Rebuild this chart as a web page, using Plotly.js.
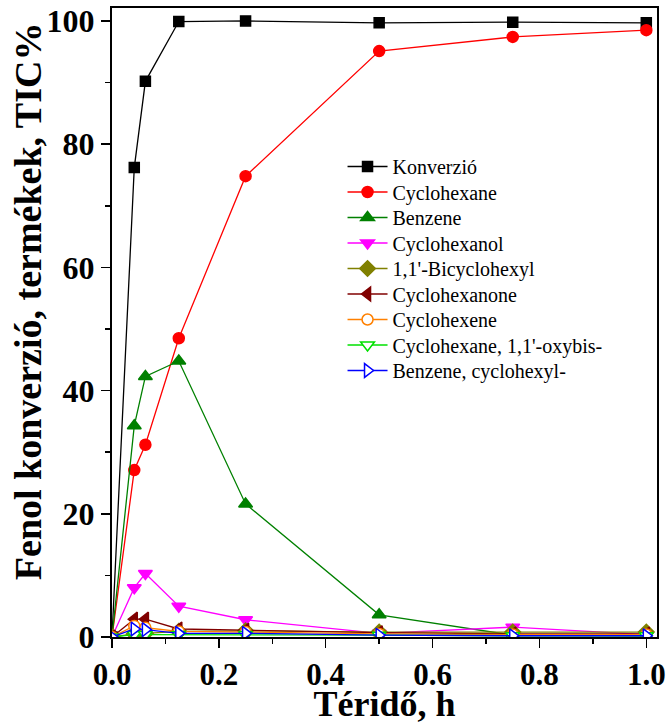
<!DOCTYPE html>
<html>
<head>
<meta charset="utf-8">
<script src="https://cdn.plot.ly/plotly-3.0.1.min.js"></script>
<style>html,body{margin:0;padding:0;background:#fff;}</style>
</head>
<body>
<div id="chart" style="width:669px;height:724px;"></div>
<script>
const time = [0, 0.0417, 0.0625, 0.125, 0.25, 0.5, 0.75, 1.0];
const seriesNames = ["Konverzió", "Cyclohexane", "Benzene", "Cyclohexanol", "1,1'-Bicyclohexyl", "Cyclohexanone", "Cyclohexene", "Cyclohexane, 1,1'-oxybis-", "Benzene, cyclohexyl-"];
const konverzio = [0, 76.2, 90.2, 99.9, 100.0, 99.7, 99.8, 99.7];
const cyclohexane = [0, 27.1, 31.2, 48.5, 74.8, 95.1, 97.4, 98.5];
const benzene = [0, 34.3, 42.3, 44.8, 21.6, 3.6, 0.3, 0.2];
const cyclohexanol = [0, 8.0, 10.3, 5.0, 2.8, 0.6, 1.6, 0.4];
const bicyclohexyl = [0, 0.5, 0.6, 0.9, 1.0, 0.8, 0.8, 0.8];
const cyclohexanone = [0, 2.9, 2.9, 1.3, 1.1, 0.7, 0.5, 0.5];
const cyclohexene = [0, 1.8, 1.5, 0.9, 0.8, 0.5, 0.4, 0.4];
const oxybis = [0, 0.4, 0.4, 0.4, 0.4, 0.3, 0.2, 0.2];
const cyclohexylBenzene = [0, 1.3, 1.2, 0.6, 0.6, 0.3, 0.2, 0.2];
const xTickVals = [0, 0.2, 0.4, 0.6, 0.8, 1.0];
const xTickText = ["0.0", "0.2", "0.4", "0.6", "0.8", "1.0"];
const yTickVals = [0, 20, 40, 60, 80, 100];
const xTitle = "Téridő, h";
const yTitle = "Fenol konverzió, termékek, TIC%";

const values = [konverzio, cyclohexane, benzene, cyclohexanol, bicyclohexyl, cyclohexanone, cyclohexene, oxybis, cyclohexylBenzene];
const styles = [
  {color: "#000000", symbol: "square", size: 10, fill: "#000000"},
  {color: "#ff0000", symbol: "circle", size: 11, fill: "#ff0000"},
  {color: "#008000", symbol: "triangle-up", size: 12, fill: "#008000"},
  {color: "#ff00ff", symbol: "triangle-down", size: 12, fill: "#ff00ff"},
  {color: "#808000", symbol: "diamond", size: 12, fill: "#808000"},
  {color: "#800000", symbol: "triangle-left", size: 12, fill: "#800000"},
  {color: "#ff8000", symbol: "circle", size: 11, fill: "#ffffff"},
  {color: "#00e000", symbol: "triangle-down", size: 12, fill: "#ffffff"},
  {color: "#0000ff", symbol: "triangle-right", size: 12, fill: "#ffffff"}
];

const serif = "Liberation Serif, Times New Roman, serif";
const traces = [];
const layout = {
  width: 669, height: 724, autosize: false,
  margin: {l: 112, r: 12, t: 8, b: 87},
  paper_bgcolor: "#ffffff", plot_bgcolor: "#ffffff",
  font: {family: serif, color: "#000"},
  showlegend: true,
  xaxis: {
    range: [0, 1.02], tickvals: xTickVals, ticktext: xTickText,
    ticks: "outside", ticklen: 9, tickwidth: 1.5, tickcolor: "#000",
    minor: {dtick: 0.1, ticks: "outside", ticklen: 5, tickwidth: 1.5, tickcolor: "#000"},
    showline: true, linewidth: 2, linecolor: "#000", mirror: true,
    showgrid: false, zeroline: false,
    tickfont: {family: serif, size: 31, color: "#000", weight: "bold"},
    title: {text: "<b>" + xTitle + "</b>", font: {family: serif, size: 36, color: "#000"}, standoff: 6}
  },
  yaxis: {
    range: [0, 102.1], tickvals: yTickVals,
    ticks: "outside", ticklen: 9, tickwidth: 1.5, tickcolor: "#000",
    minor: {dtick: 10, ticks: "outside", ticklen: 5, tickwidth: 1.5, tickcolor: "#000"},
    showline: true, linewidth: 2, linecolor: "#000", mirror: true,
    showgrid: false, zeroline: false,
    tickfont: {family: serif, size: 32, color: "#000", weight: "bold"}
  },
  annotations: [{
    text: "<b>" + yTitle + "</b>", xref: "paper", yref: "paper",
    x: -0.154, y: 0.534, xanchor: "center", yanchor: "middle", textangle: -90,
    showarrow: false, font: {family: serif, size: 38, color: "#000"}
  }]
};

// one legend per series so rows can sit at the reference spacing
const plotTop = 8, plotH = 629, rowStart = 166.7, rowGap = 25.5, centerOffset = 19.7;
for (let i = 0; i < values.length; i++) {
  const s = styles[i];
  const key = i === 0 ? "legend" : "legend" + (i + 1);
  traces.push({
    x: time, y: values[i], name: seriesNames[i], type: "scatter", mode: "lines+markers",
    line: {color: s.color, width: 1.3},
    marker: {symbol: s.symbol, size: s.size, color: s.fill, line: {color: s.color, width: 1.5}},
    legend: key
  });
  const topPx = rowStart + rowGap * i - centerOffset;
  layout[key] = {
    x: 0.423, y: (plotTop + plotH - topPx) / plotH, xanchor: "left", yanchor: "top",
    bgcolor: "rgba(0,0,0,0)", font: {family: serif, size: 20, color: "#000"}, itemwidth: 40
  };
}

Plotly.newPlot("chart", traces, layout, {displayModeBar: false, staticPlot: true});
</script>
</body>
</html>
